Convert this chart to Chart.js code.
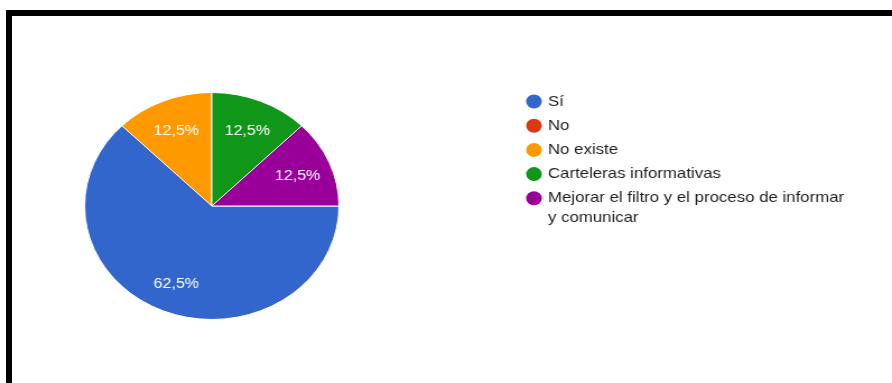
<!DOCTYPE html>
<html>
<head>
<meta charset="utf-8">
<script src="https://cdn.jsdelivr.net/npm/chart.js@4/dist/chart.umd.min.js"></script>
<style>
  html, body { margin: 0; padding: 0; background: #fff; }
  body { width: 892px; height: 383px; position: relative; overflow: hidden; }
  #frame {
    position: absolute; left: 6px; top: 10px; right: -20px; bottom: -20px;
    border-top: 6px solid #000; border-left: 6px solid #000;
    box-sizing: border-box; pointer-events: none; z-index: 2;
  }
  #wrap {
    position: absolute; left: 0; top: 0; width: 796px; height: 383px;
    transform: scaleX(1.1206); transform-origin: 0 0;
  }
</style>
</head>
<body>
<div id="frame"></div>
<div id="wrap"><canvas id="chart"></canvas></div>
<script>
// Respuestas (porcentaje del total)
const categories = ['Sí', 'No', 'No existe', 'Carteleras informativas', 'Mejorar el filtro y el proceso de informar y comunicar'];
const percentages = [62.5, 0, 12.5, 12.5, 12.5];
const sliceColors = ['#3366cc', '#dc3912', '#ff9900', '#109618', '#990099'];

const FONT = '"Liberation Sans", Arial, Helvetica, sans-serif';

function pct(v) {
  return v.toFixed(1).replace('.', ',') + '%';
}

// Percentage text inside each slice
const sliceLabels = {
  id: 'sliceLabels',
  afterDatasetsDraw(chart) {
    const ctx = chart.ctx;
    const meta = chart.getDatasetMeta(0);
    const values = chart.data.datasets[0].data;
    ctx.save();
    ctx.font = '14.3px ' + FONT;
    ctx.fillStyle = '#ffffff';
    ctx.textAlign = 'center';
    ctx.textBaseline = 'middle';
    meta.data.forEach((arc, i) => {
      if (!values[i]) return;
      const p = arc.getProps(['x', 'y', 'startAngle', 'endAngle', 'outerRadius'], true);
      const mid = (p.startAngle + p.endAngle) / 2;
      const r = p.outerRadius * 0.73;
      ctx.fillText(pct(values[i]), p.x + Math.cos(mid) * r, p.y + Math.sin(mid) * r + 1.5);
    });
    ctx.restore();
  }
};

// Legend on the right with round markers and wrapped text
const sideLegend = {
  id: 'sideLegend',
  afterDraw(chart) {
    const ctx = chart.ctx;
    const labels = chart.data.labels;
    const colors = chart.data.datasets[0].backgroundColor;
    const markerX = 476.5, textX = 489, startY = 101.5, rowGap = 24.2, lineGap = 20, maxW = 270;
    ctx.save();
    ctx.font = '15px ' + FONT;
    ctx.textBaseline = 'middle';
    ctx.textAlign = 'left';
    let y = startY;
    labels.forEach((text, i) => {
      ctx.beginPath();
      ctx.arc(markerX, y, 7, 0, Math.PI * 2);
      ctx.fillStyle = colors[i];
      ctx.fill();
      const words = text.split(' ');
      const lines = [];
      let line = '';
      words.forEach(w => {
        const test = line ? line + ' ' + w : w;
        if (line && ctx.measureText(test).width > maxW) {
          lines.push(line);
          line = w;
        } else {
          line = test;
        }
      });
      lines.push(line);
      ctx.fillStyle = '#1f1f1f';
      lines.forEach((l, k) => ctx.fillText(l, textX, y + k * lineGap));
      y += rowGap + (lines.length - 1) * lineGap;
    });
    ctx.restore();
  }
};

new Chart(document.getElementById('chart'), {
  type: 'pie',
  data: {
    labels: categories,
    datasets: [{
      data: percentages,
      backgroundColor: sliceColors,
      borderColor: '#ffffff',
      borderWidth: 1
    }]
  },
  options: {
    responsive: true,
    maintainAspectRatio: false,
    animation: false,
    rotation: 90,
    layout: { padding: { left: 75, top: 92, right: 493, bottom: 63 } },
    plugins: {
      legend: { display: false },
      tooltip: { enabled: false }
    }
  },
  plugins: [sliceLabels, sideLegend]
});
</script>
</body>
</html>
